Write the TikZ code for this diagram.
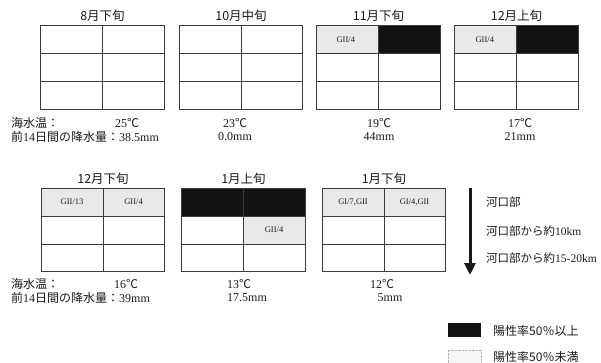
\documentclass[tikz,border=0pt]{standalone}
\usepackage{fontspec}
\setmainfont{Liberation Serif}
\newfontfamily\jp{Noto Sans CJK JP}
\usetikzlibrary{arrows.meta,positioning,calc}
\definecolor{ink}{HTML}{1A1A1A}
\definecolor{rule}{HTML}{3C3C3C}
\definecolor{hit}{HTML}{121212}
\definecolor{low}{HTML}{E9E9E9}
\tikzset{
  panel/.style={minimum width=123pt,minimum height=83pt,inner sep=0pt},
  gridline/.style={draw=rule,line width=.8pt},
  month/.style={font=\jp\fontsize{12.5}{13}\selectfont,text=ink,inner sep=0pt},
  meas/.style={font=\fontsize{12}{13}\selectfont,text=ink,inner sep=0pt},
  rowlabel/.style={font=\fontsize{12}{13}\selectfont,text=ink,anchor=west,inner sep=0pt},
  strain/.style={font=\fontsize{8.5}{9}\selectfont,text=ink,inner sep=0pt},
  sitelabel/.style={font=\fontsize{11.5}{12}\selectfont,text=ink,anchor=west,inner sep=0pt},
  keybox/.style={minimum width=33pt,minimum height=14pt,inner sep=0pt},
  keytext/.style={font=\jp\fontsize{12}{13}\selectfont,text=ink,anchor=west,inner sep=0pt},
  flow/.style={-{Triangle[length=12pt,width=11pt]},line width=3pt,draw=ink}
}
\newcommand{\cellfill}[4]{%
  \fill[#1] ($(#2.north west)+({(#3-1)*61.5},{(#4-1)*83/3})$) rectangle ++(61.5,{83/3});}

\begin{document}
\begin{tikzpicture}[x=1pt,y=-1pt]
\useasboundingbox (0,0) rectangle (601,363);

% Row 1: late August to early December
\node[panel] (aug) at (102.5,67.5) {};
\node[panel] (oct) at (241,67.5) {};
\node[panel] (nov) at (378.5,67.5) {};
\node[panel] (dec1) at (516.5,67.5) {};

\node[month,above=4pt of aug] (augt) {8月下旬};
\node[month,above=4pt of oct] (octt) {10月中旬};
\node[month,above=4pt of nov] (novt) {11月下旬};
\node[month,above=4pt of dec1] (dec1t) {12月上旬};

\cellfill{low}{nov}{1}{1}
\cellfill{hit}{nov}{2}{1}
\cellfill{low}{dec1}{1}{1}
\cellfill{hit}{dec1}{2}{1}

% Row 2: late December to late January
\node[panel] (dec3) at (103,230) {};
\node[panel] (jan1) at (243.5,230) {};
\node[panel] (jan3) at (384,230) {};

\node[month,above=4pt of dec3] (dec3t) {12月下旬};
\node[month,above=4pt of jan1] (jan1t) {1月上旬};
\node[month,above=4pt of jan3] (jan3t) {1月下旬};

\cellfill{low}{dec3}{1}{1}
\cellfill{low}{dec3}{2}{1}
\cellfill{hit}{jan1}{1}{1}
\cellfill{hit}{jan1}{2}{1}
\cellfill{low}{jan1}{2}{2}
\cellfill{low}{jan3}{1}{1}
\cellfill{low}{jan3}{2}{1}

\foreach \p in {aug,oct,nov,dec1,dec3,jan1,jan3}{
  \draw[gridline] (\p.north west) rectangle (\p.south east);
  \draw[gridline] (\p.north) -- (\p.south);
  \draw[gridline] ($(\p.north west)!1/3!(\p.south west)$) -- ($(\p.north east)!1/3!(\p.south east)$);
  \draw[gridline] ($(\p.north west)!2/3!(\p.south west)$) -- ($(\p.north east)!2/3!(\p.south east)$);
}

% strains found
\node[strain] (novs) at ($(nov.north west)+(29,13.8)$) {GII/4};
\node[strain] (dec1s) at ($(dec1.north west)+(30,13.8)$) {GII/4};
\node[strain] (dec3a) at ($(dec3.north west)+(30.75,13.8)$) {GII/13};
\node[strain] (dec3b) at ($(dec3.north west)+(92.25,13.8)$) {GII/4};
\node[strain] (jan1s) at ($(jan1.north west)+(92.25,41.5)$) {GII/4};
\node[strain] (jan3a) at ($(jan3.north west)+(30.75,13.8)$) {GI/7,GII};
\node[strain] (jan3b) at ($(jan3.north west)+(92.25,13.8)$) {GI/4,GII};

% sea temperature and rainfall
\node[rowlabel] (sea1) at (11,123) {{\jp 海水温：}};
\node[rowlabel] (rain1) at (11,137) {{\jp 前}14{\jp 日間の降水量：}38.5mm};
\node[meas] (augc) at (127,123) {25{\jp ℃}};
\node[meas] (octc) at (235,123) {23{\jp ℃}};
\node[meas] (octr) at (235,137) {0.0mm};
\node[meas] (novc) at (379,123) {19{\jp ℃}};
\node[meas] (novr) at (379,137) {44mm};
\node[meas] (dec1c) at (520,123) {17{\jp ℃}};
\node[meas] (dec1r) at (520,137) {21mm};

\node[rowlabel] (sea2) at (11,284) {{\jp 海水温：}};
\node[rowlabel] (rain2) at (11,298) {{\jp 前}14{\jp 日間の降水量：}39mm};
\node[meas] (dec3c) at (126,284) {16{\jp ℃}};
\node[meas] (jan1c) at (239,284) {13{\jp ℃}};
\node[meas] (jan1r) at (247,298) {17.5mm};
\node[meas] (jan3c) at (382,284) {12{\jp ℃}};
\node[meas] (jan3r) at (390,298) {5mm};

% sampling sites
\coordinate (mouth) at (470,188);
\coordinate (upper) at (470,275);
\draw[flow] (mouth) -- (upper);
\node[sitelabel] (site1) at (486,202) {{\jp 河口部}};
\node[sitelabel] (site2) at (486,231) {{\jp 河口部から約}10km};
\node[sitelabel] (site3) at (486,258) {{\jp 河口部から約}15-20km};

% legend
\node[keybox,fill=hit] (keyhi) at (464.5,330) {};
\node[keybox,fill=low!45,draw=black!30,densely dotted] (keylo) at (464.5,357) {};
\node[keytext] (keyhit) at (493,331) {陽性率50％以上};
\node[keytext] (keylot) at (493,357) {陽性率50％未満};

\end{tikzpicture}
\end{document}
